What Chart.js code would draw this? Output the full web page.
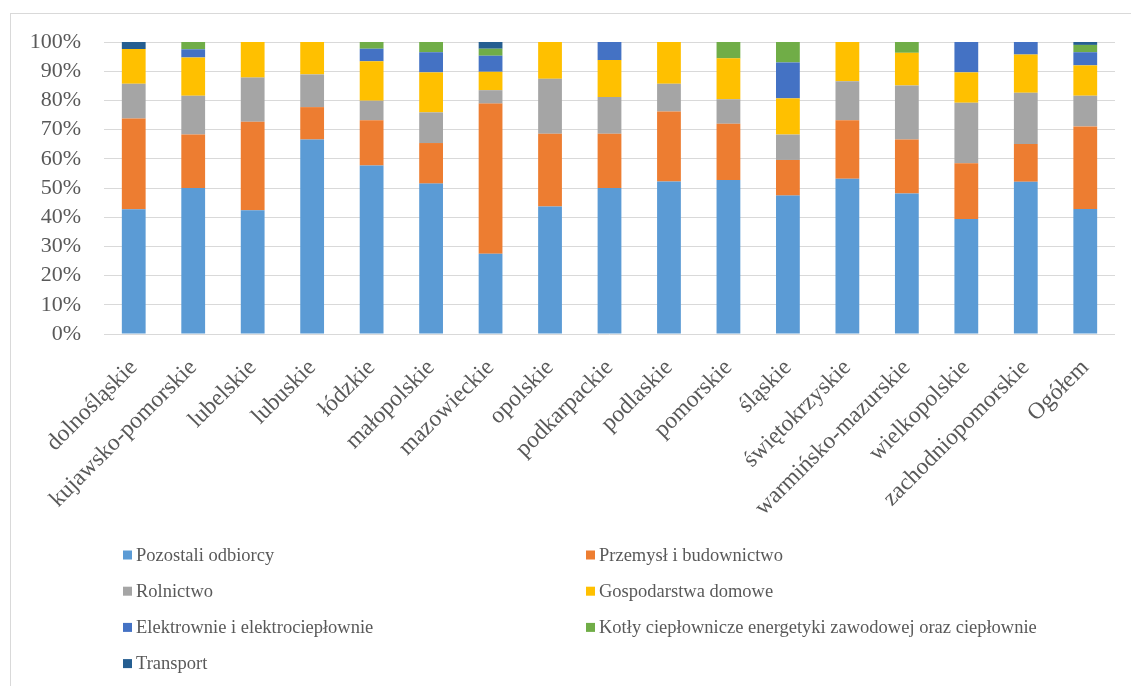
<!DOCTYPE html>
<html lang="pl">
<head>
<meta charset="utf-8">
<title>Struktura zużycia według województw</title>
<script src="https://cdn.jsdelivr.net/npm/chart.js@4/dist/chart.umd.min.js"></script>
<style>
  html, body { margin: 0; padding: 0; background: #fff; }
  #wrap { position: relative; width: 1131px; height: 686px; overflow: hidden; }
  #frame { position: absolute; left: 10px; top: 13px; width: 1140px; height: 700px;
           border: 1px solid #d9d9d9; box-sizing: border-box; }
  #c { position: absolute; left: 0; top: 0; }
</style>
</head>
<body>
<div id="wrap">
  <div id="frame"></div>
  <canvas id="c" width="1131" height="686"></canvas>
</div>
<script>
// Województwa (plus total)
const regions = [
  'dolnośląskie', 'kujawsko-pomorskie', 'lubelskie', 'lubuskie', 'łódzkie',
  'małopolskie', 'mazowieckie', 'opolskie', 'podkarpackie', 'podlaskie',
  'pomorskie', 'śląskie', 'świętokrzyskie', 'warmińsko-mazurskie',
  'wielkopolskie', 'zachodniopomorskie', 'Ogółem'
];

// Udział grup odbiorców (%)
const pozostaliOdbiorcy = [42.7, 50.0, 42.4, 66.6, 57.7, 51.5, 27.5, 43.7, 50.0, 52.2, 52.7, 47.4, 53.2, 48.1, 39.4, 52.1, 42.8];
const przemysl          = [31.1, 18.3, 30.3, 11.1, 15.5, 13.9, 51.4, 24.9, 18.6, 24.0, 19.3, 12.2, 20.0, 18.5, 19.1, 13.0, 28.3];
const rolnictwo         = [11.9, 13.3, 15.1, 11.2,  6.7, 10.5,  4.6, 18.8, 12.6,  9.5,  8.4,  8.7, 13.4, 18.5, 20.7, 17.5, 10.5];
const gospodarstwa      = [11.9, 13.1, 12.2, 11.1, 13.5, 13.7,  6.3, 12.6, 12.6, 14.3, 14.0, 12.4, 13.4, 11.2, 10.4, 13.1, 10.4];
const elektrownie       = [ 0.0,  2.8,  0.0,  0.0,  4.3,  6.9,  5.5,  0.0,  6.2,  0.0,  0.0, 12.3,  0.0,  0.0, 10.4,  4.3,  4.5];
const kotly             = [ 0.0,  2.5,  0.0,  0.0,  2.3,  3.5,  2.4,  0.0,  0.0,  0.0,  5.6,  7.0,  0.0,  3.7,  0.0,  0.0,  2.5];
const transport         = [ 2.4,  0.0,  0.0,  0.0,  0.0,  0.0,  2.3,  0.0,  0.0,  0.0,  0.0,  0.0,  0.0,  0.0,  0.0,  0.0,  1.0];

const seriesNames = [
  'Pozostali odbiorcy', 'Przemysł i budownictwo', 'Rolnictwo', 'Gospodarstwa domowe',
  'Elektrownie i elektrociepłownie', 'Kotły ciepłownicze energetyki zawodowej oraz ciepłownie',
  'Transport'
];
const seriesValues = [pozostaliOdbiorcy, przemysl, rolnictwo, gospodarstwa, elektrownie, kotly, transport];
const seriesColors = ['#5B9BD5', '#ED7D31', '#A5A5A5', '#FFC000', '#4472C4', '#70AD47', '#255E91'];

const yMin = 0, yMax = 100, yStep = 10;

const FONT = '"Times New Roman", "Liberation Serif", serif';
const TEXT_COLOR = '#595959';

// Two-column legend below the plot
const gridLegend = {
  id: 'gridLegend',
  afterDraw(chart) {
    const ctx = chart.ctx;
    const colX = [123, 586];
    const firstRowY = 555;
    const rowGap = 36.2;
    ctx.save();
    ctx.font = '18.5px ' + FONT;
    ctx.textAlign = 'left';
    ctx.textBaseline = 'middle';
    chart.data.datasets.forEach((ds, i) => {
      const x = colX[i % 2];
      const y = firstRowY + Math.floor(i / 2) * rowGap;
      ctx.fillStyle = ds.backgroundColor;
      ctx.fillRect(x, y - 4.5, 9, 9);
      ctx.fillStyle = TEXT_COLOR;
      ctx.fillText(ds.label, x + 13, y + 1);
    });
    ctx.restore();
  }
};

new Chart(document.getElementById('c'), {
  type: 'bar',
  data: {
    labels: regions,
    datasets: seriesNames.map((name, i) => ({
      label: name,
      data: seriesValues[i],
      backgroundColor: seriesColors[i],
      borderWidth: 0,
      barPercentage: 0.4,
      categoryPercentage: 1.0
    }))
  },
  options: {
    responsive: false,
    animation: false,
    layout: { padding: { top: 42, right: 16, bottom: 152, left: 0 } },
    plugins: {
      legend: { display: false },
      tooltip: { enabled: false },
      title: { display: false }
    },
    scales: {
      x: {
        stacked: true,
        grid: { display: false },
        border: { display: false },
        ticks: {
          autoSkip: false,
          minRotation: 45,
          maxRotation: 45,
          padding: 12,
          color: TEXT_COLOR,
          font: { family: FONT, size: 23.5 }
        },
        afterFit(scale) { scale.height = 200; }
      },
      y: {
        stacked: true,
        min: yMin,
        max: yMax,
        border: { display: false },
        grid: { color: '#d9d9d9', lineWidth: 1, drawTicks: false },
        ticks: {
          autoSkip: false,
          stepSize: yStep,
          padding: 23,
          color: TEXT_COLOR,
          font: { family: FONT, size: 22 },
          callback: v => v + '%'
        },
        afterFit(scale) { scale.width = 104; }
      }
    }
  },
  plugins: [gridLegend]
});
</script>
</body>
</html>
